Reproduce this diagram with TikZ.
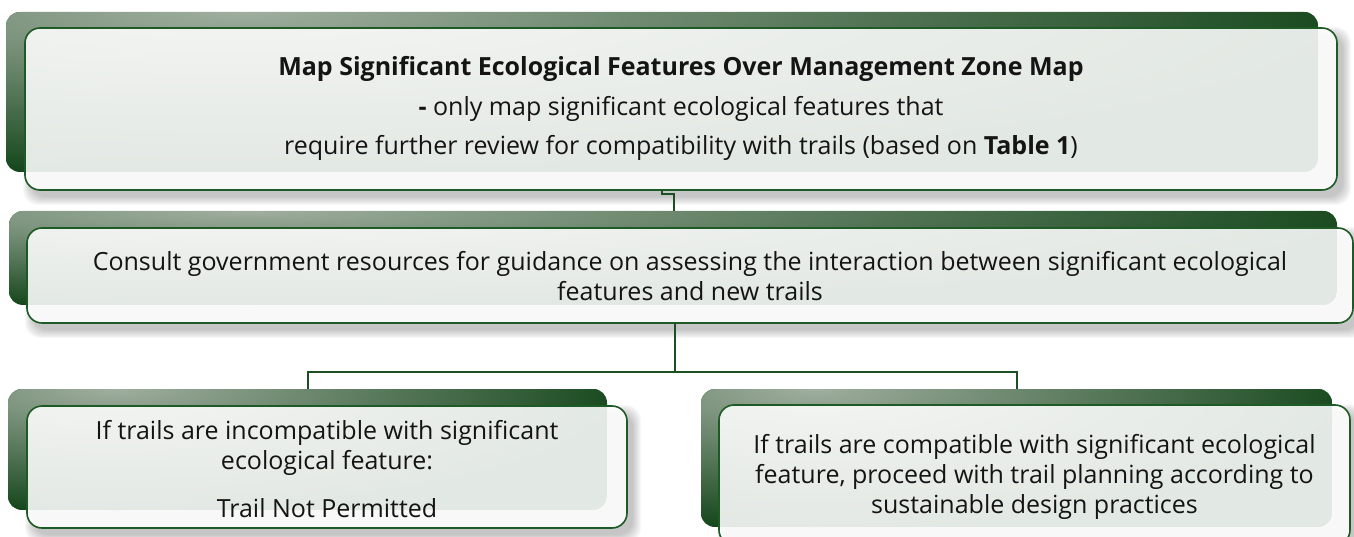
\documentclass[tikz,border=0pt]{standalone}
\usepackage{fontspec}
\setmainfont{Open Sans}
\definecolor{tablight}{HTML}{A0AE9F}
\definecolor{tabdark}{HTML}{17481D}
\definecolor{boxline}{HTML}{1E5A25}
\definecolor{conncol}{HTML}{1C4F22}
\definecolor{txt}{HTML}{141414}

\newcommand\greentab[5]{%
  \begin{scope}
    \clip[rounded corners=14pt] (#2,#3) rectangle (#4,#5);
    \fill[tabdark] (#2,#3) rectangle (#4,#5);
    \shade[inner color=tablight, outer color=tabdark]
      ({#2+0.18*(#4-#2)},#3) ellipse [x radius={0.85*(#4-#2)}, y radius={1.0*(#5-#3)}];
  \end{scope}
  \node[tabnode, minimum width={(#4-#2)*1pt}, minimum height={(#5-#3)*1pt}] (#1) at (#2,#3) {};
}
\newcommand\softshadow[4]{%
  \foreach \i in {0,...,8}{
    \fill[black, opacity=0.028, rounded corners=15pt]
      ({#1+6-\i},{#2+7-\i}) rectangle ({#3+6+\i},{#4+7+\i});
  }
}

\begin{document}
\begin{tikzpicture}[x=1pt, y=-1pt,
  tabnode/.style={rectangle, inner sep=0pt, outer sep=0pt, anchor=north west},
  wbox/.style={draw=boxline, line width=1.6pt, rounded corners=15pt, fill=white,
    fill opacity=0.88, text opacity=1, text=txt, align=center, inner sep=0pt,
    outer sep=0pt, anchor=north west},
  lbl/.style={text=txt, align=center, font=\fontsize{25}{30}\selectfont},
  conn/.style={draw=conncol, line width=1.8pt}]
\useasboundingbox (0,0) rectangle (1354,537);
\clip (0,0) rectangle (1354,537);

% shadows
\softshadow{25}{28}{1337}{190}
\softshadow{27}{228}{1353}{323}
\softshadow{27}{406}{627}{528}
\softshadow{719}{405}{1350}{545}

% green tabs
\greentab{t1}{6}{12}{1318}{172}
\greentab{t2}{9}{211}{1337}{305}
\greentab{t3}{8}{389}{607}{510}
\greentab{t4}{701}{389}{1332}{527}

% white boxes
\node[wbox, minimum width=1312pt, minimum height=162pt] (b1) at (25,28) {};
\node[wbox, minimum width=1326pt, minimum height=95pt] (b2) at (27,228) {};
\node[wbox, minimum width=600pt, minimum height=122pt] (b3) at (27,406) {};
\node[wbox, minimum width=631pt, minimum height=140pt] (b4) at (719,405) {};

% connectors
\coordinate (hub) at (675,372);
\draw[conn] (b1.south -| 662,0) -- (662,194) -- (674,194) -- (t2.north -| 674,0);
\draw[conn] (b2.south -| hub) -- (hub);
\draw[conn] (t3.north -| 308,0) -- (308,372) -- (1017,372) -- (t4.north -| 1017,0);

% texts
\node[lbl] (x1) at ([yshift=1pt]b1.center)
  {{\bfseries Map Significant Ecological Features Over Management Zone Map}\\[10pt]
   {\bfseries -} only map significant ecological features that\\[9pt]
   require further review for compatibility with trails (based on {\bfseries Table 1})};
\node[lbl] (x2) at ([yshift=-1pt]b2.center)
  {Consult government resources for guidance on assessing the interaction between significant ecological\\
   features and new trails};
\node[lbl] (x3) at ([yshift=-2pt]b3.center)
  {If trails are incompatible with significant\\ ecological feature:\\[18pt] Trail Not Permitted};
\node[lbl] (x4) at ([yshift=-2pt]b4.center)
  {If trails are compatible with significant ecological\\ feature, proceed with trail planning according to\\ sustainable design practices};
\end{tikzpicture}
\end{document}
